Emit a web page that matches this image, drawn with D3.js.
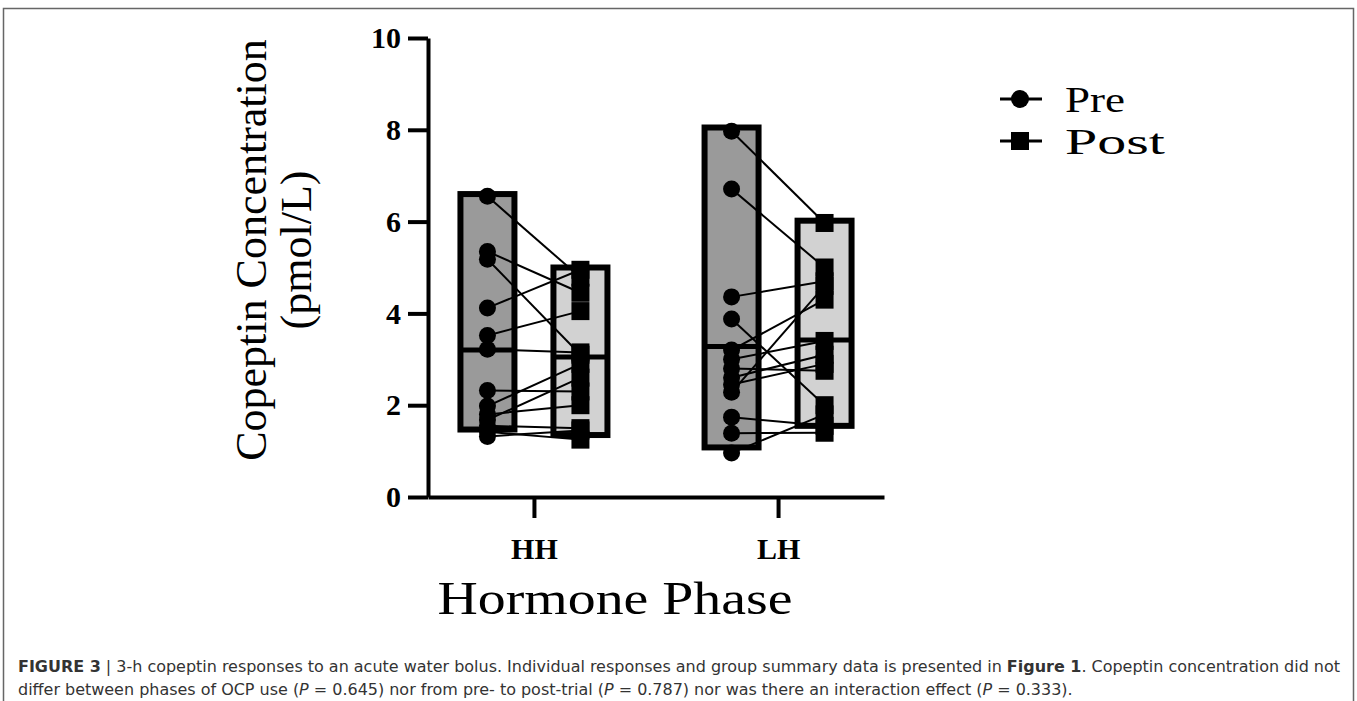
<!DOCTYPE html>
<html>
<head>
<meta charset="utf-8">
<script src="https://cdn.jsdelivr.net/npm/d3@7"></script>
<style>
  body { margin: 0; background: #fff; }
  svg { display: block; }
</style>
</head>
<body>
<svg id="main" width="1357" height="701"></svg>
<script>
const width = 1357;
const height = 701;

// data
const phases = ['HH', 'LH'];
const times = ['Pre', 'Post'];
const yTicks = [0, 2, 4, 6, 8, 10];

const hhPre = [6.55, 5.35, 5.18, 4.12, 3.52, 3.22, 2.32, 1.98, 1.8, 1.68, 1.55, 1.42, 1.32];
const hhPost = [4.78, 4.45, 3.1, 4.95, 4.05, 3.15, 2.3, 2.9, 2.0, 2.6, 1.5, 1.25, 1.45];
const lhPre = [7.97, 6.71, 4.36, 3.88, 3.2, 3.0, 2.8, 2.6, 2.45, 2.28, 1.74, 1.39, 0.96];
const lhPost = [5.97, 5.0, 4.7, 2.0, 4.3, 3.4, 2.75, 3.1, 2.9, 4.6, 1.55, 1.4, 1.8];

const barPhase = ['HH', 'HH', 'LH', 'LH'];
const barTime = ['Pre', 'Post', 'Pre', 'Post'];
const barLow = [1.47, 1.35, 1.08, 1.55];
const barHigh = [6.6, 5.0, 8.05, 6.02];
const barMid = [3.2, 3.05, 3.28, 3.42];

const fills = { Pre: '#9a9a9a', Post: '#d2d2d2' };

const pairs = [];
hhPre.forEach((v, i) => pairs.push({ phase: 'HH', pre: v, post: hhPost[i] }));
lhPre.forEach((v, i) => pairs.push({ phase: 'LH', pre: v, post: lhPost[i] }));
const bars = barPhase.map((p, i) => ({ phase: p, time: barTime[i], low: barLow[i], high: barHigh[i], mid: barMid[i] }));

const svg = d3.select('#main');
const serif = '"Liberation Serif", "Times New Roman", serif';

// outer frame
svg.append('path')
    .attr('d', `M3.5,${height} V8.5 H1353.5 V${height}`)
    .attr('fill', 'none')
    .attr('stroke', '#666')
    .attr('stroke-width', 1.5);

const xScale = d3.scalePoint().domain(phases).range([428, 884]).padding(0.434);
const tScale = d3.scalePoint().domain(times).range([-46.5, 46.5]);
const yScale = d3.scaleLinear().domain([0, 10]).range([497, 38]);
const barW = 54;

// bars
const barG = svg.append('g');
barG.selectAll('rect')
    .data(bars)
    .join('rect')
    .attr('x', d => xScale(d.phase) + tScale(d.time) - barW / 2)
    .attr('width', barW)
    .attr('y', d => yScale(d.high))
    .attr('height', d => yScale(d.low) - yScale(d.high))
    .attr('fill', d => fills[d.time])
    .attr('stroke', '#000')
    .attr('stroke-width', 6);
barG.selectAll('line')
    .data(bars)
    .join('line')
    .attr('x1', d => xScale(d.phase) + tScale(d.time) - barW / 2)
    .attr('x2', d => xScale(d.phase) + tScale(d.time) + barW / 2)
    .attr('y1', d => yScale(d.mid))
    .attr('y2', d => yScale(d.mid))
    .attr('stroke', '#000')
    .attr('stroke-width', 5);

// individual lines
svg.append('g')
    .selectAll('line')
    .data(pairs)
    .join('line')
    .attr('x1', d => xScale(d.phase) + tScale('Pre'))
    .attr('x2', d => xScale(d.phase) + tScale('Post'))
    .attr('y1', d => yScale(d.pre))
    .attr('y2', d => yScale(d.post))
    .attr('stroke', '#000')
    .attr('stroke-width', 2);

// markers
svg.append('g')
    .selectAll('circle')
    .data(pairs)
    .join('circle')
    .attr('cx', d => xScale(d.phase) + tScale('Pre'))
    .attr('cy', d => yScale(d.pre))
    .attr('r', 8.5)
    .attr('fill', '#000');
svg.append('g')
    .selectAll('rect')
    .data(pairs)
    .join('rect')
    .attr('x', d => xScale(d.phase) + tScale('Post') - 9)
    .attr('y', d => yScale(d.post) - 9)
    .attr('width', 18)
    .attr('height', 18)
    .attr('fill', '#000');

// axes
const yAxis = d3.axisLeft(yScale).tickValues(yTicks).tickSize(20).tickSizeOuter(0).tickPadding(7);
const xAxis = d3.axisBottom(xScale).tickSize(21).tickSizeOuter(0).tickPadding(8);

const gy = svg.append('g').attr('transform', 'translate(428,0)').call(yAxis);
const gx = svg.append('g').attr('transform', `translate(0,${yScale(0)})`).call(xAxis);
[gx, gy].forEach(g => {
    g.selectAll('path, line').attr('stroke', '#000').attr('stroke-width', 4);
    g.selectAll('text')
        .attr('fill', '#000')
        .style('font-family', serif)
        .style('font-weight', 'bold')
        .style('font-size', '30px');
});
gx.selectAll('text').attr('dy', '1.1em');

// axis titles
svg.append('text')
    .text('Copeptin Concentration')
    .attr('text-anchor', 'middle')
    .attr('transform', 'translate(266, 250) rotate(-90)')
    .style('font-family', serif)
    .style('font-size', '44px');
svg.append('text')
    .text('(pmol/L)')
    .attr('text-anchor', 'middle')
    .attr('transform', 'translate(311, 250) rotate(-90)')
    .style('font-family', serif)
    .style('font-size', '44px');
svg.append('text')
    .text('Hormone Phase')
    .attr('text-anchor', 'middle')
    .attr('x', 615)
    .attr('y', 614)
    .attr('textLength', 355)
    .attr('lengthAdjust', 'spacingAndGlyphs')
    .style('font-family', serif)
    .style('font-size', '47px');

// legend
const legendWidths = { Pre: 60, Post: 100 };
const legend = svg.append('g').selectAll('g')
    .data(times)
    .join('g')
    .attr('transform', (d, i) => `translate(1000, ${99 + i * 42})`);
legend.append('line')
    .attr('x1', 0).attr('x2', 42)
    .attr('stroke', '#000').attr('stroke-width', 3);
legend.filter(d => d === 'Pre').append('circle')
    .attr('cx', 20).attr('r', 9).attr('fill', '#000');
legend.filter(d => d === 'Post').append('rect')
    .attr('x', 11).attr('y', -9).attr('width', 18).attr('height', 18).attr('fill', '#000');
legend.append('text')
    .text(d => d)
    .attr('x', 65)
    .attr('dy', '0.35em')
    .attr('textLength', d => legendWidths[d])
    .attr('lengthAdjust', 'spacingAndGlyphs')
    .style('font-family', serif)
    .style('font-size', '36px');

// caption
const sans = '"DejaVu Sans Condensed", "DejaVu Sans", sans-serif';
const cap1 = svg.append('text')
    .attr('x', 18).attr('y', 672)
    .style('font-family', sans).style('font-stretch', 'condensed')
    .style('font-size', '16px').attr('fill', '#333');
cap1.append('tspan').text('FIGURE 3').style('font-weight', 'bold');
cap1.append('tspan').text(' | 3-h copeptin responses to an acute water bolus. Individual responses and group summary data is presented in ');
cap1.append('tspan').text('Figure 1').style('font-weight', 'bold');
cap1.append('tspan').text('. Copeptin concentration did not');

const cap2 = svg.append('text')
    .attr('x', 18).attr('y', 695)
    .style('font-family', sans).style('font-stretch', 'condensed')
    .style('font-size', '16px').attr('fill', '#333');
cap2.append('tspan').text('differ between phases of OCP use (');
cap2.append('tspan').text('P').style('font-style', 'italic');
cap2.append('tspan').text(' = 0.645) nor from pre- to post-trial (');
cap2.append('tspan').text('P').style('font-style', 'italic');
cap2.append('tspan').text(' = 0.787) nor was there an interaction effect (');
cap2.append('tspan').text('P').style('font-style', 'italic');
cap2.append('tspan').text(' = 0.333).');

// fit the first line to the reference width, same squeeze for the second
const ratio = 1322 / cap1.node().getComputedTextLength();
[cap1, cap2].forEach(c => {
    const w = c.node().getComputedTextLength();
    c.attr('textLength', w * ratio).attr('lengthAdjust', 'spacingAndGlyphs');
});
</script>
</body>
</html>
